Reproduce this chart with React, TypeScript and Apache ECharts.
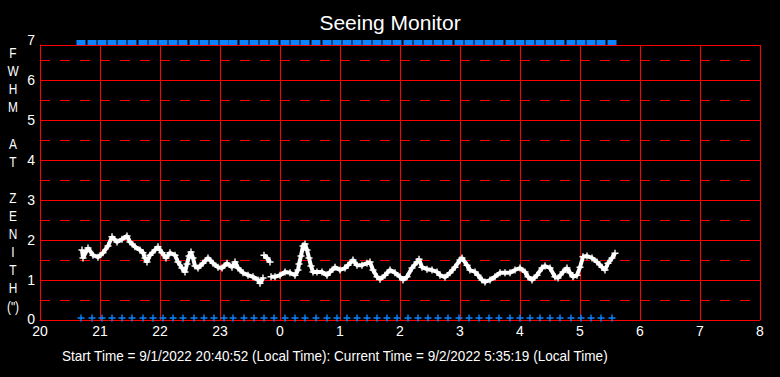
import React, { useEffect, useRef } from 'react';
import * as echarts from 'echarts';

const chartTitle = 'Seeing Monitor';
const footerText =
  'Start Time = 9/1/2022 20:40:52 (Local Time): Current Time = 9/2/2022 5:35:19 (Local Time)';
const yAxisLetters = ['F', 'W', 'H', 'M', '', 'A', 'T', '', 'Z', 'E', 'N', 'I', 'T', 'H', '(")'];
const hourLabels = ['20', '21', '22', '23', '0', '1', '2', '3', '4', '5', '6', '7', '8'];
const yTickLabels = ['0', '1', '2', '3', '4', '5', '6', '7'];

// minutes after 20:00 local time
const seeingMinutes = [
  42, 43, 48, 53, 58, 63, 68, 72, 77, 82, 87, 90, 95, 100, 103, 105, 107, 110, 115, 118,
  122, 126, 130, 135, 138, 142, 145, 147, 149, 151, 153, 155, 158, 163, 168, 173, 178, 182,
  187, 192, 195, 198, 203, 208, 213, 218, 220, 223, 224, 227, 230, 231, 235, 240, 245, 250,
  255, 258, 259, 261, 263, 265, 267, 269, 271, 273, 277, 282, 287, 290, 295, 300, 305, 308,
  313, 317, 322, 327, 330, 333, 337, 340, 345, 350, 355, 360, 363, 367, 372, 377, 379, 382,
  387, 392, 397, 400, 405, 410, 415, 420, 422, 427, 430, 435, 438, 442, 445, 450, 455, 460,
  465, 470, 475, 480, 485, 488, 492, 497, 502, 505, 510, 515, 518, 523, 527, 530, 533, 537,
  540, 543, 547, 552, 557, 562, 565, 568, 572, 575,
];
// FWHM at zenith (arcsec)
const seeingValues = [
  1.75, 1.55, 1.8, 1.62, 1.57, 1.68, 1.85, 2.08, 1.95, 2.02, 2.1, 1.95, 1.83, 1.75, 1.68, 1.55, 1.45, 1.62, 1.75, 1.83,
  1.68, 1.55, 1.68, 1.62, 1.45, 1.3, 1.2, 1.4, 1.6, 1.7, 1.55, 1.35, 1.3, 1.42, 1.55, 1.42, 1.32, 1.3,
  1.42, 1.32, 1.45, 1.3, 1.18, 1.12, 1.08, 1.0, 0.92, 1.05, 1.62, 1.55, 1.45, 1.08, 1.08, 1.12, 1.2, 1.18,
  1.12, 1.25, 1.4, 1.6, 1.85, 1.9, 1.75, 1.55, 1.35, 1.2, 1.2, 1.2, 1.12, 1.2, 1.32, 1.25, 1.3, 1.37,
  1.5, 1.37, 1.37, 1.42, 1.45, 1.25, 1.08, 1.02, 1.12, 1.25, 1.18, 1.08, 1.0, 1.08, 1.3, 1.45, 1.52, 1.32,
  1.27, 1.25, 1.2, 1.12, 1.07, 1.18, 1.32, 1.5, 1.55, 1.37, 1.25, 1.2, 1.12, 1.0, 0.95, 1.0, 1.08, 1.18,
  1.18, 1.18, 1.25, 1.3, 1.2, 1.08, 1.0, 1.12, 1.3, 1.35, 1.3, 1.08, 1.05, 1.2, 1.3, 1.18, 1.08, 1.12,
  1.32, 1.58, 1.6, 1.55, 1.45, 1.32, 1.25, 1.42, 1.55, 1.67,
];
// sample times (minutes after 20:00) marked in blue
const sampleMinutes = [
  41, 52, 62, 72, 82, 92, 103, 113, 123, 133, 143, 154, 164, 174, 184, 193, 204, 214, 224, 234,
  245, 255, 265, 276, 287, 297, 307, 317, 327, 337, 347, 357, 368, 378, 388, 398, 408, 419, 429, 439,
  449, 459, 470, 480, 490, 500, 510, 520, 531, 541, 551, 561, 572,
];
const topMarkerLevel = 7;
const bottomMarkerLevel = 0;

const SANS = "'Liberation Sans', Arial, sans-serif";
const PLUS = 'path://M2,0H3V2H5V3H3V5H2V3H0V2H2Z';
const RED = '#ff0000';
const BLUE = '#0a84ff';

function measure(text: string, font: string): number {
  const c = document.createElement('canvas').getContext('2d');
  if (!c) return 0;
  c.font = font;
  return c.measureText(text).width;
}

export default function App() {
  const ref = useRef<HTMLDivElement>(null);

  useEffect(() => {
    if (!ref.current) return;
    const chart = echarts.init(ref.current, undefined, { renderer: 'svg' });

    const points = seeingMinutes.map((m, i) => [m, seeingValues[i]]);
    const linePts: any[] = [];
    points.forEach((p, i) => {
      if (i > 0) {
        const prev = points[i - 1];
        if (p[0] - prev[0] <= 1 && Math.abs(p[1] - prev[1]) > 0.3) linePts.push([p[0], null]);
      }
      linePts.push(p);
    });

    const footerW = measure(footerText, "14px 'Liberation Sans'") || 600;
    const footerScale = 547 / footerW;

    chart.setOption({
      animation: false,
      backgroundColor: '#000000',
      title: [
        {
          text: chartTitle,
          left: 'center',
          top: 7,
          textStyle: { color: '#ffffff', fontSize: 21, fontWeight: 'normal', fontFamily: SANS },
        },
      ],
      graphic: [
        {
          type: 'text',
          x: 62,
          y: 356,
          scaleX: footerScale,
          style: {
            text: footerText,
            align: 'left',
            verticalAlign: 'middle',
            fill: '#ffffff',
            fontSize: 14,
            fontFamily: SANS,
          },
        },
        {
          type: 'text',
          x: 13,
          y: 180,
          scaleX: 0.85,
          style: {
            text: yAxisLetters.join('\n'),
            align: 'center',
            verticalAlign: 'middle',
            lineHeight: 18.1,
            fill: '#ffffff',
            fontSize: 14,
            fontFamily: SANS,
          },
        },
      ],
      grid: { left: 40, right: 20, top: 45, bottom: 57 },
      xAxis: {
        type: 'value',
        min: 0,
        max: 720,
        interval: 60,
        axisLine: { show: true, lineStyle: { color: RED, width: 1 } },
        axisTick: { show: false },
        axisLabel: {
          color: '#ffffff',
          fontSize: 14,
          fontFamily: SANS,
          margin: 4,
          formatter: (v: number) => hourLabels[Math.round(v / 60)] ?? '',
        },
        splitLine: { show: true, lineStyle: { color: RED, width: 1 } },
      },
      yAxis: [
        {
          type: 'value',
          min: 0,
          max: 6.875,
          interval: 1,
          axisLine: { show: true, lineStyle: { color: RED, width: 1 } },
          axisTick: { show: false },
          axisLabel: {
            color: '#ffffff',
            fontSize: 14,
            fontFamily: SANS,
            margin: 5,
            formatter: (v: number) =>
              v > 6.5 ? '{t|' + yTickLabels[7] + '}' : v < 0.5 ? '{b|' + yTickLabels[0] + '}' : yTickLabels[Math.round(v)],
            rich: {
              t: { color: '#ffffff', fontSize: 14, fontFamily: SANS, padding: [0, 0, 10, 0] },
              b: { color: '#ffffff', fontSize: 14, fontFamily: SANS, padding: [0, 0, 3, 0] },
            },
          },
          splitLine: { show: true, lineStyle: { color: RED, width: 1 } },
        },
        {
          type: 'value',
          min: 0,
          max: 6.875,
          interval: 0.5,
          position: 'left',
          axisLine: { show: false },
          axisTick: { show: false },
          axisLabel: { show: false },
          splitLine: { show: true, lineStyle: { color: RED, width: 1, type: [10, 10] } },
        },
      ],
      series: [
        {
          type: 'scatter',
          yAxisIndex: 0,
          clip: false,
          symbol: 'rect',
          symbolSize: [9, 5],
          symbolOffset: [0, 2.5],
          itemStyle: { color: BLUE, opacity: 1 },
          data: sampleMinutes.map((m) => [m, topMarkerLevel]),
          z: 5,
        },
        {
          type: 'scatter',
          yAxisIndex: 0,
          clip: false,
          symbol: PLUS,
          symbolSize: 7,
          symbolOffset: [0, -2],
          itemStyle: { color: BLUE, opacity: 1 },
          data: sampleMinutes.map((m) => [m, bottomMarkerLevel]),
          z: 5,
        },
        {
          type: 'line',
          yAxisIndex: 0,
          showSymbol: false,
          connectNulls: false,
          lineStyle: { color: '#ffffff', width: 4 },
          data: linePts,
          z: 4,
        },
        {
          type: 'scatter',
          yAxisIndex: 0,
          symbol: PLUS,
          symbolSize: 7,
          itemStyle: { color: '#ffffff', opacity: 1 },
          data: points,
          z: 6,
        },
      ],
    });

    return () => chart.dispose();
  }, []);

  return <div ref={ref} style={{ width: 780, height: 377, position: 'absolute', left: 0, top: 0 }} />;
}
